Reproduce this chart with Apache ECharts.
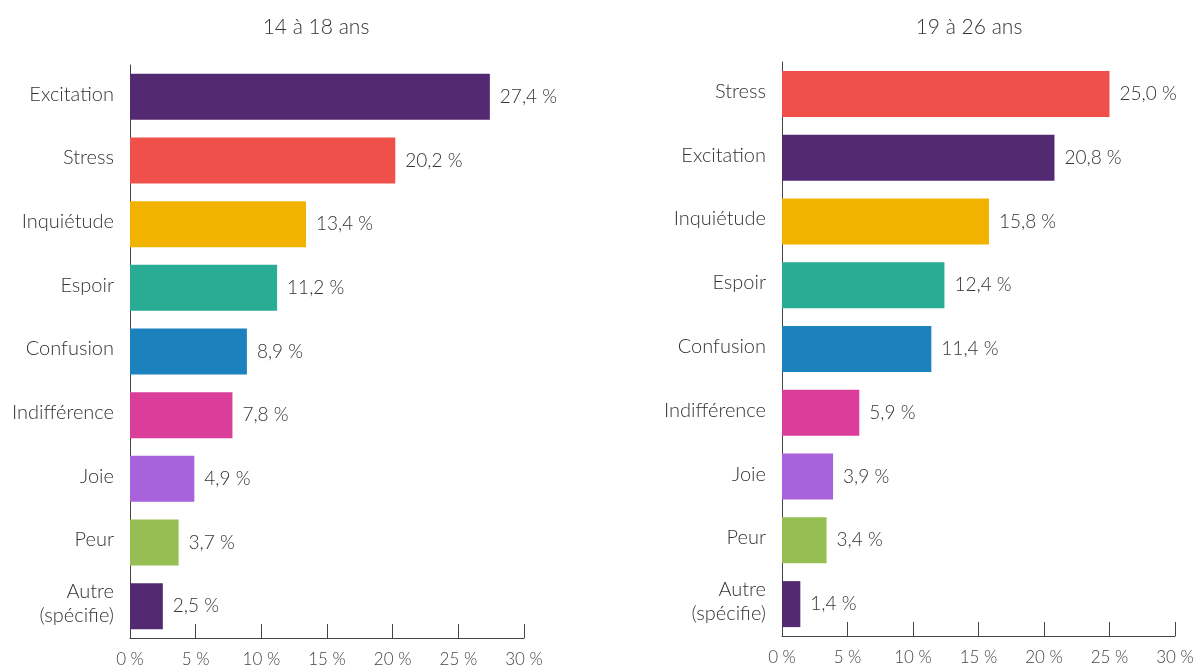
<!DOCTYPE html>
<html>
<head>
<meta charset="utf-8">
<script src="https://cdn.jsdelivr.net/npm/echarts@6/dist/echarts.min.js"></script>
<style>html,body{margin:0;padding:0;background:#fff}#c{width:1199px;height:668px}</style>
</head>
<body>
<div id="c"></div>
<script>
const titles = ['14 à 18 ans', '19 à 26 ans'];
const cats1 = ['Excitation', 'Stress', 'Inquiétude', 'Espoir', 'Confusion', 'Indifférence', 'Joie', 'Peur', 'Autre\n(spécifie)'];
const vals1 = [27.4, 20.2, 13.4, 11.2, 8.9, 7.8, 4.9, 3.7, 2.5];
const cats2 = ['Stress', 'Excitation', 'Inquiétude', 'Espoir', 'Confusion', 'Indifférence', 'Joie', 'Peur', 'Autre\n(spécifie)'];
const vals2 = [25.0, 20.8, 15.8, 12.4, 11.4, 5.9, 3.9, 3.4, 1.4];
const xTicks = [0, 5, 10, 15, 20, 25, 30];
const catColors = {
  'Excitation': '#532A71',
  'Stress': '#F0504A',
  'Inquiétude': '#F2B300',
  'Espoir': '#28AD94',
  'Confusion': '#1B82BE',
  'Indifférence': '#DB3D9A',
  'Joie': '#A862DC',
  'Peur': '#95BF52',
  'Autre\n(spécifie)': '#532A71'
};

const FONT = 'Lato';
const fmt = v => v.toFixed(1).replace('.', ',') + ' %';

function mkX(gi) {
  return {
    gridIndex: gi, type: 'value', min: 0, max: 30, interval: 5,
    splitLine: { show: false },
    axisLine: { show: true, lineStyle: { color: '#444', width: 1 } },
    axisTick: { show: true, inside: true, length: 14, lineStyle: { color: '#444' } },
    axisLabel: { fontFamily: FONT, fontWeight: 300, fontSize: 17, color: '#444', margin: 13,
      formatter: v => xTicks.includes(v) ? v + ' %' : '' }
  };
}
function mkY(gi, cats) {
  return {
    gridIndex: gi, type: 'category', data: cats, inverse: true,
    axisLine: { show: true, lineStyle: { color: '#444', width: 1 } },
    axisTick: { show: false },
    axisLabel: { fontFamily: FONT, fontWeight: 300, fontSize: 20, color: '#333', margin: 16,
      formatter: v => '{t|' + v.split('\n').join('}\n{t|') + '}',
      rich: { t: { fontFamily: FONT, fontWeight: 300, fontSize: 20, color: '#333', lineHeight: 24, padding: [0, 0, 5, 0] } } }
  };
}
function mkS(gi, cats, vals) {
  return {
    type: 'bar', xAxisIndex: gi, yAxisIndex: gi, barWidth: 46,
    data: vals.map((v, i) => ({ value: v, itemStyle: { color: catColors[cats[i]] } })),
    label: { show: true, position: 'right', distance: 10, fontFamily: FONT, fontWeight: 300,
      fontSize: 19, color: '#333', formatter: p => fmt(p.value) },
    animation: false
  };
}

const chart = echarts.init(document.getElementById('c'), null, { renderer: 'canvas' });
chart.setOption({
  animation: false,
  title: [
    { text: titles[0], left: 311, top: 12, textAlign: 'center',
      textStyle: { fontFamily: FONT, fontWeight: 300, fontSize: 21, color: '#333' } },
    { text: titles[1], left: 964, top: 12, textAlign: 'center',
      textStyle: { fontFamily: FONT, fontWeight: 300, fontSize: 21, color: '#333' } }
  ],
  grid: [
    { left: 130, width: 394, top: 65, height: 574 },
    { left: 782, width: 393, top: 62, height: 574 }
  ],
  xAxis: [mkX(0), mkX(1)],
  yAxis: [mkY(0, cats1), mkY(1, cats2)],
  series: [mkS(0, cats1, vals1), mkS(1, cats2, vals2)]
});
</script>
</body>
</html>
